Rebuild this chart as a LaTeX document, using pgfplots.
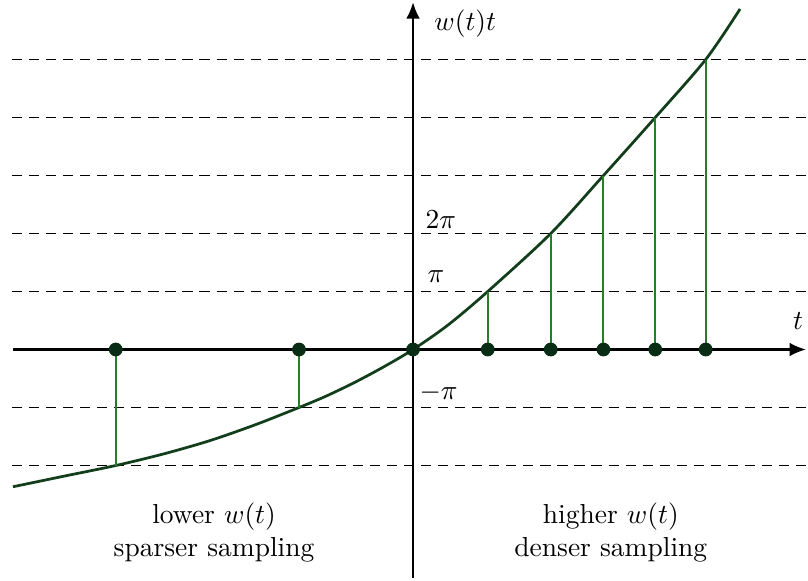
\documentclass[border=0pt]{standalone}
\usepackage{pgfplots}
\usepackage{pgfplotstable}
\pgfplotsset{compat=1.18}
\usetikzlibrary{arrows.meta}

\definecolor{curvegreen}{RGB}{18,62,28}
\definecolor{stemgreen}{RGB}{40,125,40}
\definecolor{dotgreen}{RGB}{8,44,20}

% sampling instants t_k where w(t_k) t_k = k*pi (y in units of pi)
\pgfplotstableread{
t      k   zero
-5.126 -2  0
-1.966 -1  0
0       0  0
1.288   1  0
2.374   2  0
3.283   3  0
4.176   4  0
5.046   5  0
}\samples

\begin{document}
\begin{tikzpicture}
\begin{axis}[
  x=21.1pt, y=21.1pt,
  scale only axis,
  axis lines=none,
  xmin=-7.121, xmax=6.81,
  ymin=-3.974, ymax=6.026,
  clip=false,
]
  \coordinate (bbsw) at (axis cs:-7.121,-3.974);
  \coordinate (bbne) at (axis cs:6.81,6.026);

  % multiples of pi
  \pgfplotsinvokeforeach{-2,-1,1,2,3,4,5}{
    \draw[black, line width=0.65pt, dash pattern=on 3.7pt off 2.5pt]
      (axis cs:-6.914,#1) -- (axis cs:6.81,#1);
  }

  % axes
  \draw[black, line width=0.85pt, -{Latex[length=6pt,width=5pt]}]
    (axis cs:-6.897,0) -- (axis cs:6.776,0);
  \draw[black, line width=0.85pt, -{Latex[length=6pt,width=5pt]}]
    (axis cs:0,-3.94) -- (axis cs:0,5.99);

  % phase w(t) t
  \addplot[curvegreen, line width=1pt, smooth, tension=0.5] coordinates {
    (-6.897,-2.366) (-6.0,-2.18) (-5.126,-2) (-4.3,-1.80) (-3.5,-1.57)
    (-2.7,-1.29) (-1.966,-1) (-1.5,-0.804) (-1.0,-0.564) (-0.5,-0.296)
    (0,0) (0.6,0.42) (1.288,1) (2.374,2) (3.283,3) (4.176,4) (5.046,5)
    (5.638,5.871)
  };

  % stems and sample points
  \addplot[ycomb, stemgreen, line width=0.7pt, no marks] table[x=t, y=k] {\samples};
  \addplot[only marks, mark=*, mark size=2.3pt, dotgreen,
           mark options={fill=dotgreen, draw=dotgreen}] table[x=t, y=zero] {\samples};

  % labels
  \node[anchor=west, inner sep=0pt] at (axis cs:0.207,2.24) {$2\pi$};
  \node[anchor=west, inner sep=0pt] at (axis cs:0.241,1.25) {$\pi$};
  \node[anchor=west, inner sep=0pt] at (axis cs:0.103,-0.74) {$-\pi$};
  \node at (axis cs:0.9,5.62) {$w(t)t$};
  \node at (axis cs:6.64,0.49) {$t$};
  \node[align=center] at (axis cs:-3.43,-3.16) {lower $w(t)$\\sparser sampling};
  \node[align=center] at (axis cs:3.41,-3.16) {higher $w(t)$\\denser sampling};
\end{axis}
\pgfresetboundingbox
\useasboundingbox (bbsw) rectangle (bbne);
\end{tikzpicture}
\end{document}
